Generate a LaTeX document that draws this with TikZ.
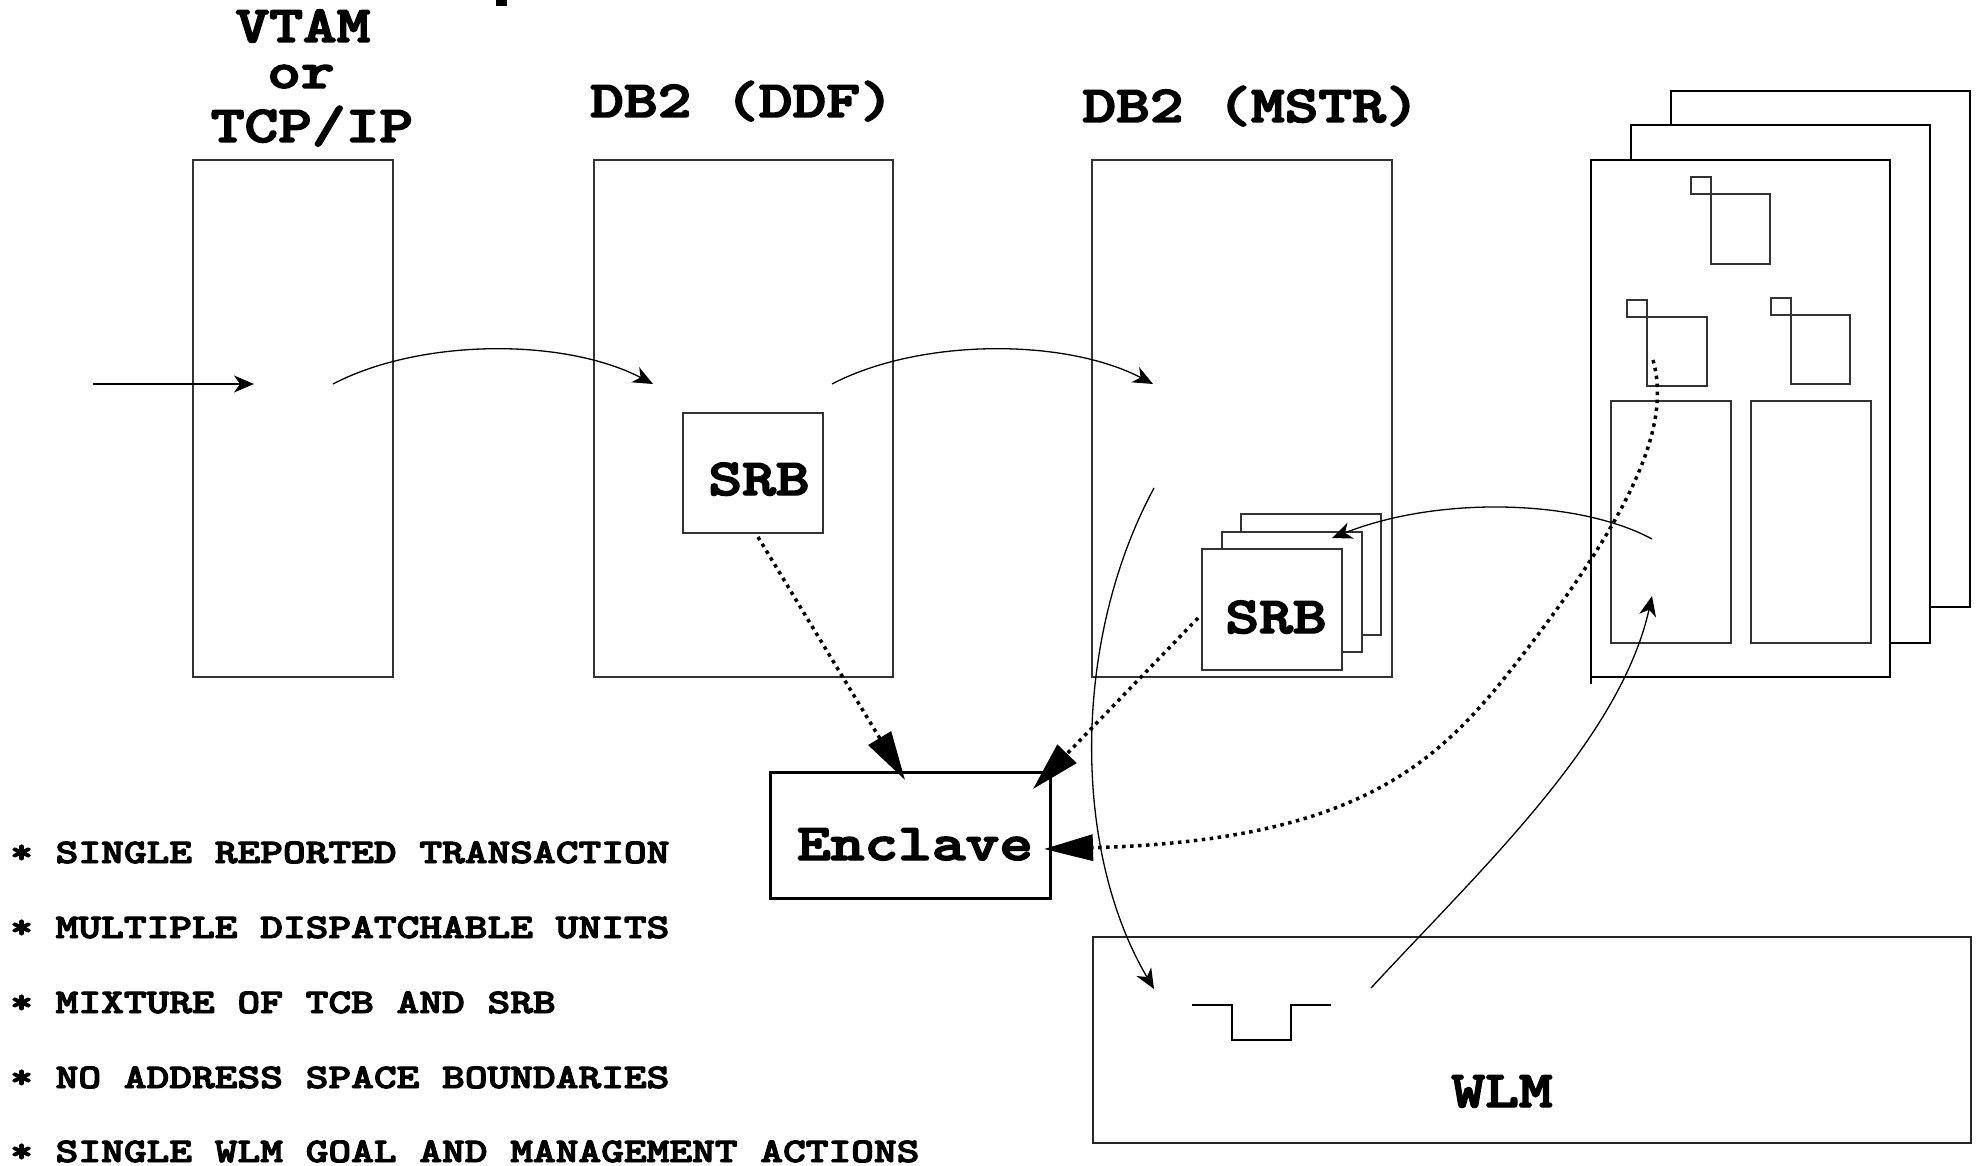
\documentclass[tikz,border=0pt]{standalone}
\usepackage{graphicx}
\usepackage{fontspec}
\newfontfamily\courb[Extension=.otf,FakeBold=2.8]{lmmonolt10-bold}
\usetikzlibrary{arrows.meta}
\newcommand{\BigT}[1]{\scalebox{1.235}[1]{\fontsize{52}{56}\selectfont\courb #1}}
\newcommand{\SmT}[1]{\scalebox{1.255}[1]{\fontsize{34.5}{40}\selectfont\courb #1}}
\begin{document}
\begin{tikzpicture}[x=1pt,y=-1pt,
  box/.style={draw=black!80,line width=1.5pt,fill=white,inner sep=0pt},
  deco/.style={draw=black!80,line width=1.5pt},
  thinarr/.style={line width=1.3pt,-{Stealth[length=20pt,width=17pt,inset=6pt]}},
  dotarr/.style={line width=3.5pt,dash pattern=on 3.5pt off 4.5pt,-{Triangle[length=49pt,width=26pt]}},
  lbl/.style={inner sep=0pt,anchor=base},
  bul/.style={inner sep=0pt,anchor=base west}]
\useasboundingbox (0,0) rectangle (1980,1166);
\fill (496,0) rectangle (507,6);
% labels
\node[lbl] (lvtam) at (303,42) {\BigT{VTAM}};
\node[lbl] (lor) at (301,88) {\BigT{or}};
\node[lbl] (ltcp) at (312,142) {\BigT{TCP/IP}};
\node[lbl] (lddf) at (742,117) {\BigT{DB2 (DDF)}};
\node[lbl] (lmstr) at (1251,122) {\BigT{DB2 (MSTR)}};
% main boxes
\node[box,minimum width=200pt,minimum height=517pt] (vtam) at (293,418.5) {};
\node[box,minimum width=299pt,minimum height=517pt] (ddf) at (743.5,418.5) {};
\node[box,minimum width=300pt,minimum height=517pt] (mstr) at (1242,418.5) {};
% right stack
\node[box,draw=black,minimum width=299pt,minimum height=516pt] (stk3) at (1820.5,349) {};
\node[box,draw=black,minimum width=299pt,minimum height=518pt] (stk2) at (1780.5,384) {};
\node[box,draw=black,minimum width=299pt,minimum height=517pt] (stk1) at (1740.5,418.5) {};
\draw[black,line width=1.5pt] (1591,677) -- (1591,684);
\draw[deco] (1691,177) rectangle (1711,194);
\draw[deco] (1711,194) rectangle (1770,264);
\draw[deco] (1627,300) rectangle (1647,317);
\draw[deco] (1647,317) rectangle (1707,386);
\draw[deco] (1771,298) rectangle (1791,315);
\draw[deco] (1791,315) rectangle (1850,384);
\draw[deco] (1611,401) rectangle (1731,643);
\draw[deco] (1751,401) rectangle (1871,643);
% SRB boxes
\node[box,minimum width=140pt,minimum height=120pt] (srb1) at (753,473) {};
\node[lbl] (tsrb1) at (759,495) {\BigT{SRB}};
\node[box,minimum width=140pt,minimum height=121pt] (srbc) at (1311,574.5) {};
\node[box,minimum width=140pt,minimum height=120pt] (srbb) at (1292,592) {};
\node[box,minimum width=140pt,minimum height=121pt] (srba) at (1272,609.5) {};
\node[lbl] (tsrb2) at (1276,633) {\BigT{SRB}};
% Enclave
\node[box,draw=black,line width=3pt,minimum width=280pt,minimum height=126pt] (encl) at (910,835) {};
\node[lbl] (tencl) at (915,860) {\BigT{Enclave}};
% WLM
\node[box,draw=black!85,line width=2pt,minimum width=878pt,minimum height=206pt] (wlm) at (1532,1040) {};
\node[lbl] (twlm) at (1502,1107) {\BigT{WLM}};
\draw[deco,black] (1192,1005) -- (1232,1005) -- (1232,1040) -- (1291,1040) -- (1291,1005) -- (1331,1005);
% bullets
\node[bul] (b1) at (10,863) {\SmT{* SINGLE REPORTED TRANSACTION}};
\node[bul] (b2) at (10,938) {\SmT{* MULTIPLE DISPATCHABLE UNITS}};
\node[bul] (b3) at (10,1013) {\SmT{* MIXTURE OF TCB AND SRB}};
\node[bul] (b4) at (10,1088) {\SmT{* NO ADDRESS SPACE BOUNDARIES}};
\node[bul] (b5) at (10,1162) {\SmT{* SINGLE WLM GOAL AND MANAGEMENT ACTIONS}};
% connector coordinates
\coordinate (in0) at (93,384);
\coordinate (in1) at (254,384);
\coordinate (c2s) at (333,384);
\coordinate (c2e) at (653,384);
\coordinate (c3s) at (832,384);
\coordinate (c3e) at (1153,384);
\coordinate (c4s) at (1154,488);
\coordinate (c4e) at (1154,989);
\coordinate (c5s) at (1371,988);
\coordinate (c5e) at (1652,596);
\coordinate (c6s) at (1652,539);
\coordinate (c6e) at (1332,538);
\coordinate (d7s) at (758,537);
\coordinate (d7e) at (905,780);
\coordinate (d8s) at (1198,618);
\coordinate (d8e) at (1033,789);
\coordinate (d9s) at (1653,360);
\coordinate (d9m) at (1534,640);
\coordinate (d9e) at (1044,849);
% connectors
\draw[thinarr] (in0) -- (in1);
\draw[thinarr] (c2s) .. controls (421,338) and (565,338) .. (c2e);
\draw[thinarr] (c3s) .. controls (920,338) and (1065,338) .. (c3e);
\draw[thinarr] (c4s) .. controls (1072,640) and (1072,850) .. (c4e);
\draw[thinarr] (c5s) .. controls (1480,870) and (1620,740) .. (c5e);
\draw[thinarr] (c6s) .. controls (1580,500) and (1440,495) .. (c6e);
\draw[dotarr] (d7s) -- (d7e);
\draw[dotarr] (d8s) -- (d8e);
\draw[dotarr] (d9s) .. controls (1670,420) and (1640,500) .. (d9m) .. controls (1450,750) and (1380,840) .. (d9e);
\end{tikzpicture}
\end{document}
